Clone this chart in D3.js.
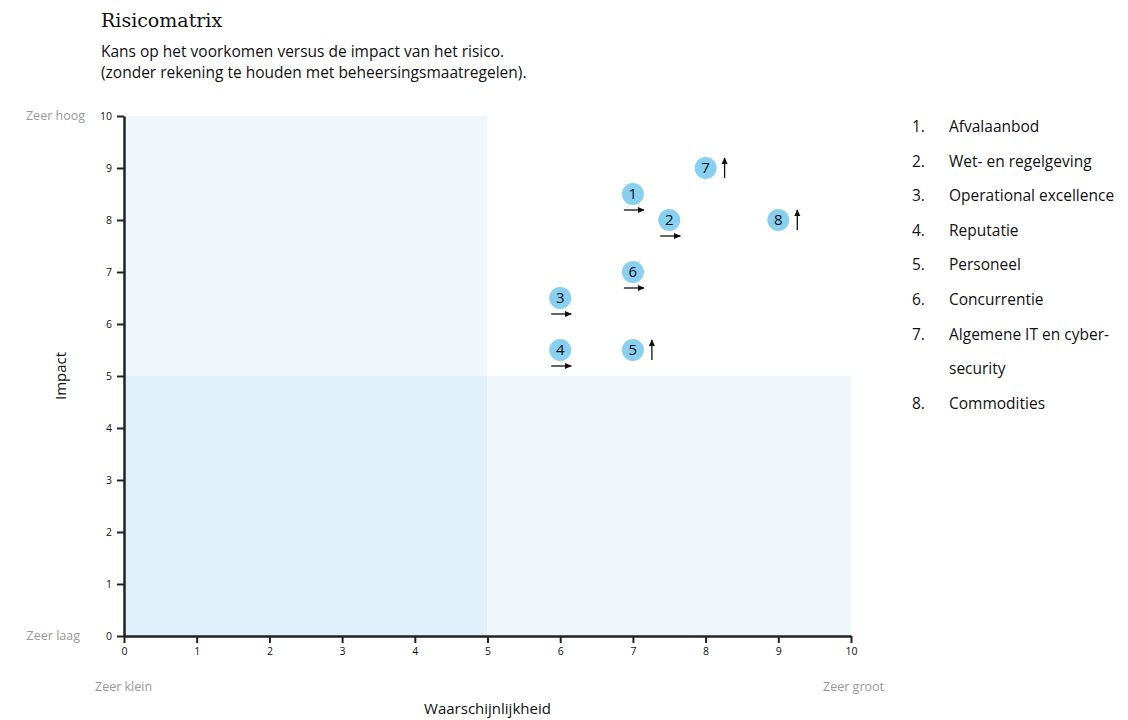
<!DOCTYPE html>
<html><head><meta charset="utf-8">
<script src="https://cdn.jsdelivr.net/npm/d3@7"></script>
<style>
body{margin:0;background:#fff;}
text{font-family:"Open Sans",sans-serif;}
</style></head>
<body><svg id="c" width="1128" height="720"></svg>
<script>
const riskIds = ["1","2","3","4","5","6","7","8"];
const likelihood = [7, 7.5, 6, 6, 7, 7, 8, 9];
const impact = [8.5, 8, 6.5, 5.5, 5.5, 7, 9, 8];
const trend = ["right","right","right","right","up","right","up","up"];
const ticks = [0,1,2,3,4,5,6,7,8,9,10];
const legendItems = ["Afvalaanbod","Wet- en regelgeving","Operational excellence","Reputatie","Personeel","Concurrentie","Algemene IT en cyber-","security","Commodities"];
const legendNums = ["1.","2.","3.","4.","5.","6.","7.","","8."];
const quadrants = [
  {x0:0,x1:5,y0:5,y1:10,fill:"#eff7fd"},
  {x0:0,x1:5,y0:0,y1:5,fill:"#dff0fa"},
  {x0:5,x1:10,y0:0,y1:5,fill:"#eff7fd"}
];

const svg = d3.select("#c");
const x = d3.scaleLinear().domain([0,10]).range([124,851]);
const y = d3.scaleLinear().domain([0,10]).range([636,116]);

svg.append("text").attr("x",101).attr("y",27).text("Risicomatrix")
  .style("font-family","'DejaVu Serif',serif").style("font-size","19px").attr("fill","#111");
svg.append("text").attr("x",101).attr("y",57).text("Kans op het voorkomen versus de impact van het risico.")
  .style("font-size","15.5px").attr("fill","#111");
svg.append("text").attr("x",101).attr("y",78).text("(zonder rekening te houden met beheersingsmaatregelen).")
  .style("font-size","15.5px").attr("fill","#111");

svg.selectAll("rect.q").data(quadrants).join("rect").attr("class","q")
  .attr("x",d=>x(d.x0)).attr("y",d=>y(d.y1))
  .attr("width",d=>x(d.x1)-x(d.x0)).attr("height",d=>y(d.y0)-y(d.y1))
  .attr("fill",d=>d.fill);

const xa = svg.append("g").attr("transform",`translate(0,${y(0)})`)
  .call(d3.axisBottom(x).tickValues(ticks).tickSize(7).tickPadding(5).tickSizeOuter(0));
const ya = svg.append("g").attr("transform",`translate(${x(0)},0)`)
  .call(d3.axisLeft(y).tickValues(ticks).tickSize(7).tickPadding(5).tickSizeOuter(0));
[xa,ya].forEach(a=>{
  a.select(".domain").attr("stroke","#222").attr("stroke-width",2.5);
  a.selectAll(".tick line").attr("stroke","#222").attr("stroke-width",2);
  a.selectAll(".tick text").style("font-size","10.5px").attr("fill","#111").style("font-family","'Open Sans',sans-serif");
});

const gray="#999";
svg.append("text").attr("x",85).attr("y",y(10)+4).attr("text-anchor","end").text("Zeer hoog").style("font-size","12.5px").attr("fill",gray);
svg.append("text").attr("x",80).attr("y",y(0)+4).attr("text-anchor","end").text("Zeer laag").style("font-size","12.5px").attr("fill",gray);
svg.append("text").attr("x",95).attr("y",691).text("Zeer klein").style("font-size","12.5px").attr("fill",gray);
svg.append("text").attr("x",884).attr("y",691).attr("text-anchor","end").text("Zeer groot").style("font-size","12.5px").attr("fill",gray);
svg.append("text").attr("x",x(5)).attr("y",714).attr("text-anchor","middle").text("Waarschijnlijkheid").style("font-size","15px").attr("fill","#111");
svg.append("text").attr("transform",`translate(66,${y(5)}) rotate(-90)`).attr("text-anchor","middle").text("Impact").style("font-size","15px").attr("fill","#111");

const defs = svg.append("defs");
defs.append("marker").attr("id","ah").attr("viewBox","0 0 10 10").attr("refX",8).attr("refY",5)
  .attr("markerWidth",6).attr("markerHeight",6).attr("orient","auto")
  .append("path").attr("d","M0,1 L9,5 L0,9 Z").attr("fill","#111");

const pts = riskIds.map((id,i)=>({id,x:likelihood[i],y:impact[i],t:trend[i]}));
const g = svg.selectAll("g.pt").data(pts).join("g").attr("class","pt")
  .attr("transform",d=>`translate(${x(d.x)},${y(d.y)})`);
g.append("circle").attr("r",11).attr("fill","#89cff0");
g.append("text").attr("text-anchor","middle").attr("dy","0.36em").text(d=>d.id)
  .style("font-size","15px").attr("fill","#111");
g.append("line")
  .attr("x1",d=>d.t==="right"?-9:19).attr("y1",d=>d.t==="right"?16:10)
  .attr("x2",d=>d.t==="right"?11:19).attr("y2",d=>d.t==="right"?16:-10)
  .attr("stroke","#111").attr("stroke-width",1.3).attr("marker-end","url(#ah)");

const lg = svg.selectAll("g.lg").data(legendItems).join("g").attr("class","lg")
  .attr("transform",(d,i)=>`translate(912,${132+i*34.6})`);
lg.append("text").text((d,i)=>legendNums[i]).style("font-size","15.5px").attr("fill","#111");
lg.append("text").attr("x",37).text(d=>d).style("font-size","15.5px").attr("fill","#111");
</script></body></html>
